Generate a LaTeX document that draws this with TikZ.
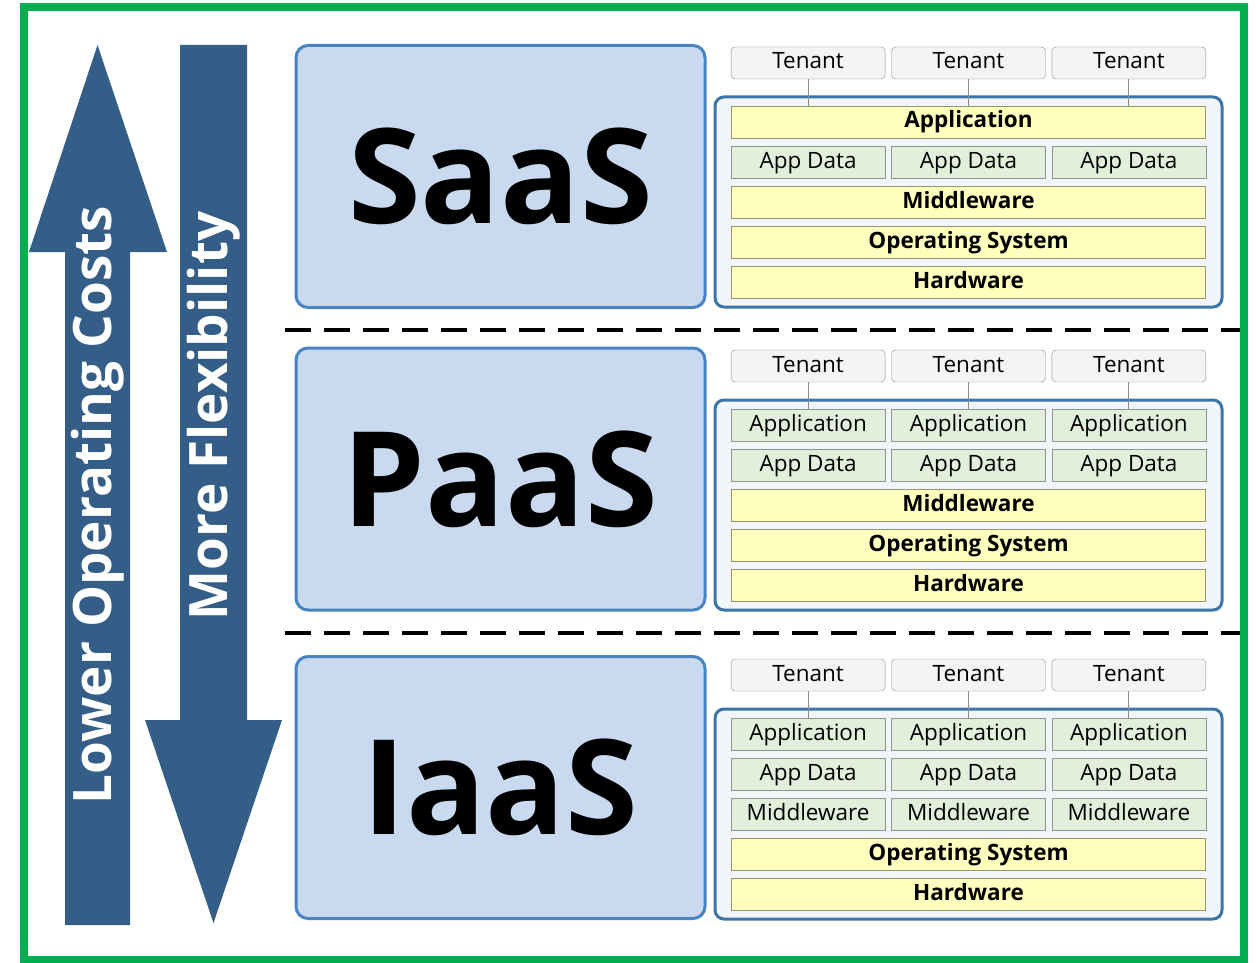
\documentclass[tikz,border=0pt]{standalone}
\usepackage{fontspec}
\setmainfont{Open Sans}
\usepackage{tikz}
\usetikzlibrary{positioning, calc}
\definecolor{arrowblue}{RGB}{52,94,135}
\definecolor{framegreen}{RGB}{0,176,80}
\definecolor{modelfill}{RGB}{201,217,240}
\definecolor{modelline}{RGB}{72,132,194}
\definecolor{stackfill}{RGB}{242,245,249}
\definecolor{stackline}{RGB}{58,118,170}
\definecolor{layerfill}{RGB}{255,255,190}
\definecolor{layerline}{RGB}{150,150,110}
\definecolor{cellfill}{RGB}{226,239,218}
\definecolor{cellline}{RGB}{140,150,140}
\definecolor{tenantfill}{RGB}{244,244,244}
\definecolor{tenantline}{RGB}{140,140,140}
\tikzset{
  tenant/.style={draw=tenantline, fill=tenantfill, rounded corners=4pt, minimum width=154pt,
    minimum height=32pt, inner sep=0pt, text height=16pt, text depth=4pt,
    font=\fontsize{22.5}{25}\selectfont},
  cell/.style={draw=cellline, fill=cellfill, minimum width=154pt, minimum height=32pt,
    inner sep=0pt, text height=16pt, text depth=4pt, font=\fontsize{22.5}{25}\selectfont},
  layer/.style={draw=layerline, fill=layerfill, minimum width=474pt, minimum height=32pt,
    inner sep=0pt, text height=16pt, text depth=4pt, font=\fontsize{22.5}{25}\selectfont\bfseries},
  stack/.style={draw=stackline, line width=3pt, fill=stackfill, rounded corners=9pt,
    minimum width=507pt, minimum height=210pt, inner sep=0pt},
  model/.style={draw=modelline, line width=3pt, fill=modelfill, rounded corners=12pt,
    minimum width=409pt, minimum height=262pt, inner sep=0pt,
    font=\fontsize{132}{134}\selectfont\bfseries},
  link/.style={draw=tenantline, line width=1pt},
  sep/.style={line width=4pt, dash pattern=on 26pt off 13pt},
  bigarrow/.style={fill=arrowblue},
  arrowtext/.style={text=white, rotate=90, inner sep=0pt, font=\fontsize{53}{58}\selectfont\bfseries}
}

\begin{document}
\begin{tikzpicture}[x=1pt, y=-1pt]
  \useasboundingbox (0,0) rectangle (1256,963);
  \draw[framegreen, line width=8pt] (24,7.5) rectangle (1244,960);

  % the two arrows
  \fill[bigarrow] (65,925) -- (65,252) -- (29,252) -- (97.5,45) -- (167,252) -- (130,252) -- (130,925) -- cycle;
  \fill[bigarrow] (180,45) -- (247,45) -- (247,720) -- (282,720) -- (213.5,923) -- (145,720) -- (180,720) -- cycle;
  \node[arrowtext] (cost) at (97.5,505) {Lower Operating Costs};
  \node[arrowtext] (flex) at (213.5,416) {More Flexibility};

  % separators
  \draw[sep] (285,330) -- (1240,330);
  \draw[sep] (285,633) -- (1240,633);

  % SaaS
  \node[model] (saas) at (500.5,176.5) {SaaS};
  \node[stack] (sStack) at (968.5,202) {};
  \node[tenant] (sT2) at (968.5,63) {Tenant};
  \node[tenant, left=6pt of sT2] (sT1) {Tenant};
  \node[tenant, right=6pt of sT2] (sT3) {Tenant};
  \node[layer] (sApp) at (968.5,122) {Application};
  \node[cell, below=7.75pt of sApp] (sD2) {App Data};
  \node[cell, left=6pt of sD2] (sD1) {App Data};
  \node[cell, right=6pt of sD2] (sD3) {App Data};
  \node[layer, below=7.75pt of sD2] (sMid) {Middleware};
  \node[layer, below=7.75pt of sMid] (sOS) {Operating System};
  \node[layer, below=7.75pt of sOS] (sHw) {Hardware};
  \foreach \i in {1,2,3}
    \draw[link] (sT\i) -- (sT\i |- sApp.north);

  % PaaS
  \node[model] (paas) at (500.5,479) {PaaS};
  \node[stack] (pStack) at (968.5,505) {};
  \node[tenant] (pT2) at (968.5,366) {Tenant};
  \node[tenant, left=6pt of pT2] (pT1) {Tenant};
  \node[tenant, right=6pt of pT2] (pT3) {Tenant};
  \node[cell] (pA2) at (968.5,425) {Application};
  \node[cell, left=6pt of pA2] (pA1) {Application};
  \node[cell, right=6pt of pA2] (pA3) {Application};
  \node[cell, below=7.75pt of pA2] (pD2) {App Data};
  \node[cell, left=6pt of pD2] (pD1) {App Data};
  \node[cell, right=6pt of pD2] (pD3) {App Data};
  \node[layer, below=7.75pt of pD2] (pMid) {Middleware};
  \node[layer, below=7.75pt of pMid] (pOS) {Operating System};
  \node[layer, below=7.75pt of pOS] (pHw) {Hardware};
  \foreach \i in {1,2,3}
    \draw[link] (pT\i) -- (pA\i);

  % IaaS
  \node[model] (iaas) at (500.5,787.5) {IaaS};
  \node[stack] (iStack) at (968.5,814) {};
  \node[tenant] (iT2) at (968.5,675) {Tenant};
  \node[tenant, left=6pt of iT2] (iT1) {Tenant};
  \node[tenant, right=6pt of iT2] (iT3) {Tenant};
  \node[cell] (iA2) at (968.5,734) {Application};
  \node[cell, left=6pt of iA2] (iA1) {Application};
  \node[cell, right=6pt of iA2] (iA3) {Application};
  \node[cell, below=7.75pt of iA2] (iD2) {App Data};
  \node[cell, left=6pt of iD2] (iD1) {App Data};
  \node[cell, right=6pt of iD2] (iD3) {App Data};
  \node[cell, below=7.75pt of iD2] (iM2) {Middleware};
  \node[cell, left=6pt of iM2] (iM1) {Middleware};
  \node[cell, right=6pt of iM2] (iM3) {Middleware};
  \node[layer, below=7.75pt of iM2] (iOS) {Operating System};
  \node[layer, below=7.75pt of iOS] (iHw) {Hardware};
  \foreach \i in {1,2,3}
    \draw[link] (iT\i) -- (iA\i);
\end{tikzpicture}
\end{document}
